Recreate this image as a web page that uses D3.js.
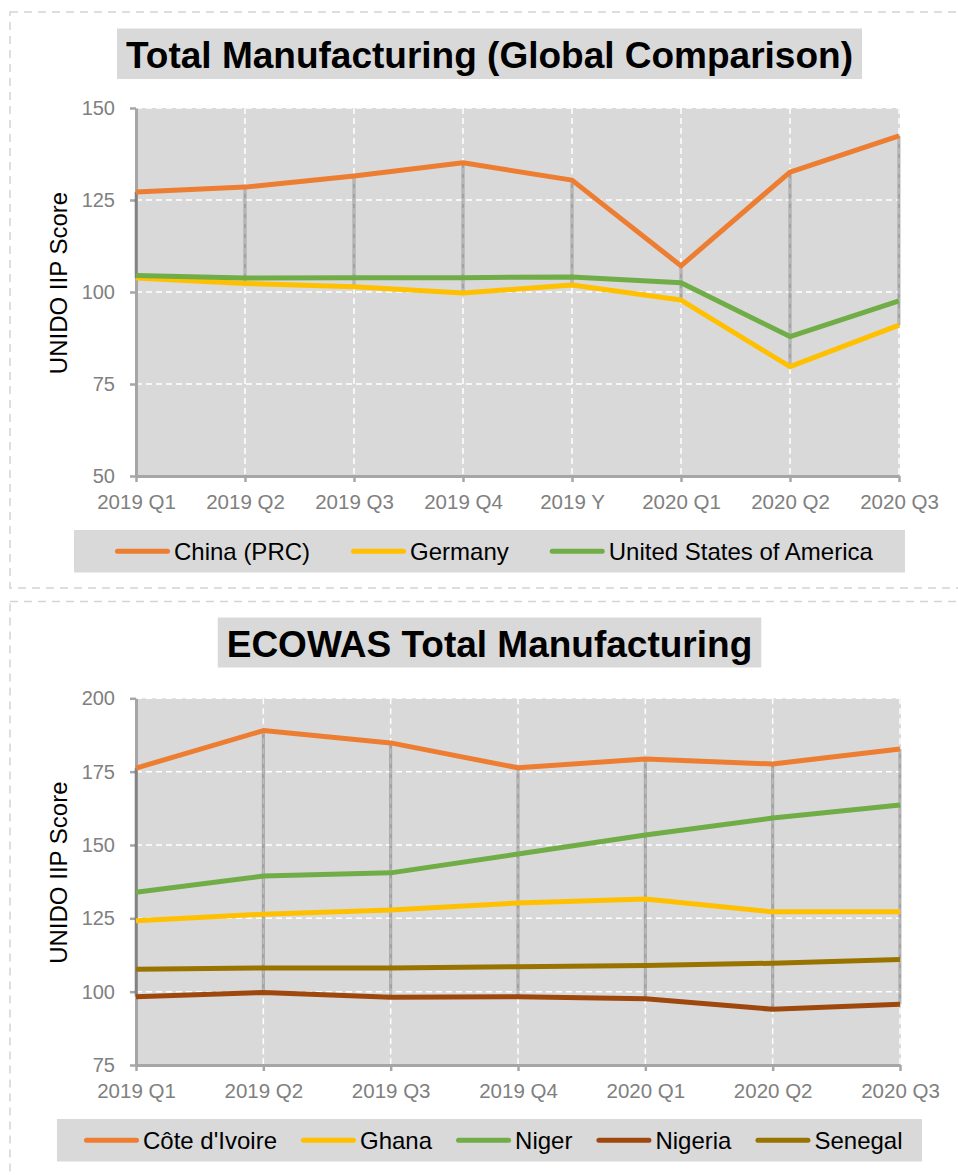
<!DOCTYPE html>
<html>
<head>
<meta charset="utf-8">
<script src="https://cdn.jsdelivr.net/npm/d3@7/dist/d3.min.js"></script>
<style>
  html, body { margin: 0; padding: 0; background: #fff; }
  svg { display: block; font-family: "Liberation Sans", Arial, sans-serif; }
</style>
</head>
<body>
<svg id="chart" width="958" height="1175"></svg>
<script>
// ---------- Data ----------
const topTitle = "Total Manufacturing (Global Comparison)";
const topCategories = ["2019 Q1", "2019 Q2", "2019 Q3", "2019 Q4", "2019 Y", "2020 Q1", "2020 Q2", "2020 Q3"];
const topSeriesNames = ["China (PRC)", "Germany", "United States of America"];
const chinaValues   = [127.2, 128.5, 131.5, 135.1, 130.4, 107.1, 132.6, 142.4];
const germanyValues = [103.8, 102.3, 101.4,  99.7, 101.9,  97.8,  79.7,  91.0];
const usaValues     = [104.5, 103.8, 103.9, 103.9, 104.1, 102.5,  87.9,  97.6];
const topYTicks = [50, 75, 100, 125, 150];

const bottomTitle = "ECOWAS Total Manufacturing";
const bottomCategories = ["2019 Q1", "2019 Q2", "2019 Q3", "2019 Q4", "2020 Q1", "2020 Q2", "2020 Q3"];
const bottomSeriesNames = ["Côte d'Ivoire", "Ghana", "Niger", "Nigeria", "Senegal"];
const coteValues    = [176.2, 189.0, 184.8, 176.3, 179.3, 177.6, 182.7];
const ghanaValues   = [124.2, 126.4, 127.8, 130.2, 131.6, 127.2, 127.2];
const nigerValues   = [133.9, 139.4, 140.5, 146.9, 153.4, 159.2, 163.6];
const nigeriaValues = [ 98.3,  99.7,  98.1,  98.3,  97.6,  94.0,  95.7];
const senegalValues = [107.6, 108.1, 108.1, 108.5, 108.9, 109.7, 111.0];
const bottomYTicks = [75, 100, 125, 150, 175, 200];

const yAxisTitle = "UNIDO IIP Score";

// ---------- Styles ----------
const colorOrange = "#ED7D31", colorGold = "#FFC000", colorGreen = "#70AD47",
      colorBrown = "#9E480E", colorOlive = "#997300";
const panelGray = "#d9d9d9";
const axisGray = "#a6a6a6";
const labelGray = "#808080";

const svg = d3.select("#chart");

function drawPanel(cfg) {
  const g = svg.append("g");
  // dashed panel border
  g.append("rect")
    .attr("x", cfg.panel.x).attr("y", cfg.panel.y)
    .attr("width", cfg.panel.w).attr("height", cfg.panel.h)
    .attr("fill", "none").attr("stroke", "#d4d4d4")
    .attr("stroke-width", 1.5).attr("stroke-dasharray", "8,6");

  // title
  const tg = g.append("g");
  const tt = tg.append("text")
    .attr("x", cfg.centerX).attr("y", cfg.titleBaseline)
    .attr("text-anchor", "middle")
    .attr("font-size", 37).attr("font-weight", "bold").attr("fill", "#000")
    .text(cfg.title);
  const tw = tt.node().getComputedTextLength();
  tg.insert("rect", "text")
    .attr("x", cfg.centerX - tw / 2 - 9).attr("y", cfg.titleBox.y)
    .attr("width", tw + 18).attr("height", cfg.titleBox.h)
    .attr("fill", panelGray);

  const x = d3.scalePoint().domain(cfg.categories).range([cfg.plot.x0, cfg.plot.x1]);
  const y = d3.scaleLinear().domain(cfg.yDomain).range([cfg.plot.y1, cfg.plot.y0]);

  // plot background
  g.append("rect")
    .attr("x", cfg.plot.x0).attr("y", cfg.plot.y0)
    .attr("width", cfg.plot.x1 - cfg.plot.x0 + 1).attr("height", cfg.plot.y1 - cfg.plot.y0)
    .attr("fill", panelGray);

  // gridlines
  g.append("g").selectAll("line")
    .data(cfg.yTicks.slice(1))
    .join("line")
    .attr("x1", cfg.plot.x0).attr("x2", cfg.plot.x1)
    .attr("y1", d => y(d)).attr("y2", d => y(d))
    .attr("stroke", "#fff").attr("stroke-width", 1.5).attr("stroke-dasharray", "6,4");
  g.append("g").selectAll("line")
    .data(cfg.categories.slice(1))
    .join("line")
    .attr("x1", d => x(d)).attr("x2", d => x(d))
    .attr("y1", cfg.plot.y0).attr("y2", cfg.plot.y1)
    .attr("stroke", "#fff").attr("stroke-width", 1.5).attr("stroke-dasharray", "6,4");

  // axes
  const yAxis = d3.axisLeft(y).tickValues(cfg.yTicks).tickSize(6).tickSizeOuter(0).tickPadding(15);
  const ya = g.append("g").attr("transform", `translate(${cfg.plot.x0},0)`).call(yAxis);
  ya.select(".domain").attr("stroke", axisGray).attr("stroke-width", 3);
  ya.selectAll(".tick line").attr("stroke", axisGray).attr("stroke-width", 2.5);
  ya.selectAll(".tick text").attr("fill", labelGray).attr("font-size", 20)
    .attr("font-family", "Liberation Sans, Arial, sans-serif");

  const xAxis = d3.axisBottom(x).tickSize(6).tickSizeOuter(0).tickPadding(12);
  const xa = g.append("g").attr("transform", `translate(0,${cfg.plot.y1})`).call(xAxis);
  xa.select(".domain").attr("stroke", axisGray).attr("stroke-width", 3);
  xa.selectAll(".tick line").attr("stroke", axisGray).attr("stroke-width", 2.5);
  xa.selectAll(".tick text").attr("fill", labelGray).attr("font-size", 20.5)
    .attr("font-family", "Liberation Sans, Arial, sans-serif");

  // high-low lines
  g.append("g").selectAll("line")
    .data(cfg.categories)
    .join("line")
    .attr("x1", d => x(d)).attr("x2", d => x(d))
    .attr("y1", (d, i) => y(d3.max(cfg.series, s => s.values[i])))
    .attr("y2", (d, i) => y(d3.min(cfg.series, s => s.values[i])))
    .attr("stroke", "#404040").attr("stroke-opacity", 0.35).attr("stroke-width", 3);

  // series lines
  const line = d3.line().x((d, i) => x(cfg.categories[i])).y(d => y(d));
  g.append("g").selectAll("path")
    .data(cfg.series)
    .join("path")
    .attr("d", s => line(s.values))
    .attr("fill", "none").attr("stroke", s => s.color)
    .attr("stroke-width", 5).attr("stroke-linejoin", "round");

  // y axis title
  g.append("text")
    .attr("transform", `translate(${cfg.yTitleX},${(cfg.plot.y0 + cfg.plot.y1) / 2 - 9}) rotate(-90)`)
    .attr("text-anchor", "middle").attr("font-size", 24).attr("fill", "#000")
    .text(yAxisTitle);

  // legend
  g.append("rect")
    .attr("x", cfg.legend.x0).attr("y", cfg.legend.y0)
    .attr("width", cfg.legend.x1 - cfg.legend.x0).attr("height", cfg.legend.y1 - cfg.legend.y0)
    .attr("fill", panelGray);
  let lx = cfg.legend.start;
  const ly = (cfg.legend.y0 + cfg.legend.y1) / 2;
  cfg.series.forEach(s => {
    g.append("line")
      .attr("x1", lx + 2.5).attr("x2", lx + 52.5).attr("y1", ly).attr("y2", ly)
      .attr("stroke", s.color).attr("stroke-width", 5).attr("stroke-linecap", "round");
    const t = g.append("text")
      .attr("x", lx + 59).attr("y", ly + 8.5)
      .attr("font-size", 24).attr("fill", "#000")
      .text(s.name);
    lx += 59 + t.node().getComputedTextLength() + cfg.legend.gap;
  });
}

drawPanel({
  panel: { x: 10, y: 12, w: 952, h: 576 },
  title: topTitle, centerX: 489.5, titleBaseline: 67.5, titleBox: { y: 28.5, h: 50.5 },
  categories: topCategories, yDomain: [50, 150], yTicks: topYTicks,
  plot: { x0: 136, x1: 899, y0: 108, y1: 476 },
  yTitleX: 67,
  series: [
    { name: topSeriesNames[0], values: chinaValues, color: colorOrange },
    { name: topSeriesNames[1], values: germanyValues, color: colorGold },
    { name: topSeriesNames[2], values: usaValues, color: colorGreen }
  ],
  legend: { x0: 74, x1: 905, y0: 530, y1: 572.5, start: 115, gap: 41 }
});

drawPanel({
  panel: { x: 10, y: 601.5, w: 952, h: 600 },
  title: bottomTitle, centerX: 489.5, titleBaseline: 656.5, titleBox: { y: 617.5, h: 50 },
  categories: bottomCategories, yDomain: [75, 200], yTicks: bottomYTicks,
  plot: { x0: 136, x1: 900, y0: 698.3, y1: 1065 },
  yTitleX: 67,
  series: [
    { name: bottomSeriesNames[0], values: coteValues, color: colorOrange },
    { name: bottomSeriesNames[1], values: ghanaValues, color: colorGold },
    { name: bottomSeriesNames[2], values: nigerValues, color: colorGreen },
    { name: bottomSeriesNames[3], values: nigeriaValues, color: colorBrown },
    { name: bottomSeriesNames[4], values: senegalValues, color: colorOlive }
  ],
  legend: { x0: 57, x1: 922, y0: 1119, y1: 1161.5, start: 84, gap: 24 }
});
</script>
</body>
</html>
